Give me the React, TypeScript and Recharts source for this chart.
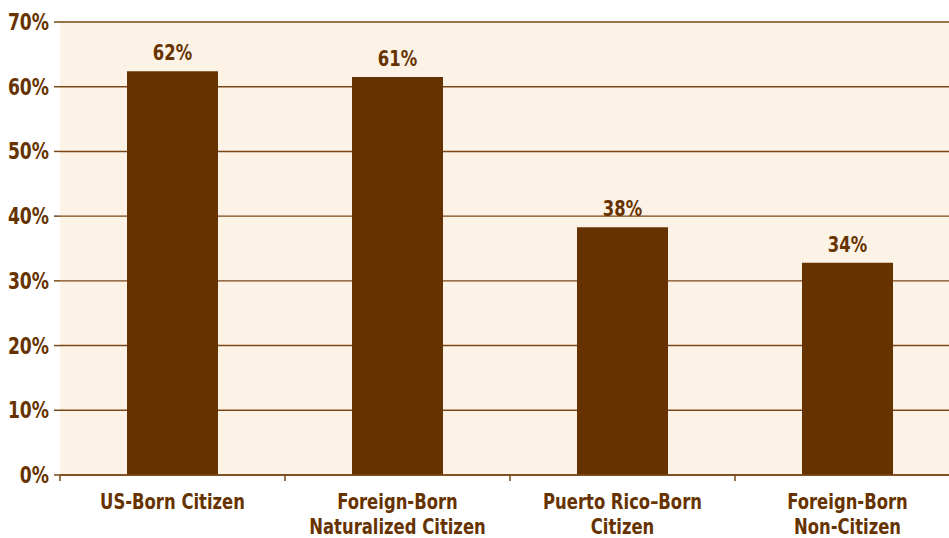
import { BarChart, Bar, XAxis, YAxis, CartesianGrid, LabelList } from "recharts";

const categories = [
  "US-Born Citizen",
  "Foreign-Born\nNaturalized Citizen",
  "Puerto Rico\u2013Born\nCitizen",
  "Foreign-Born\nNon-Citizen",
];
const shares = [62.4, 61.5, 38.3, 32.8];
const shareLabels = ["62%", "61%", "38%", "34%"];
const yTicks = [0, 10, 20, 30, 40, 50, 60, 70];

const BROWN = "#663300";
const LINE = "#7a4716";
const FONT = "'DejaVu Sans Condensed', 'DejaVu Sans', sans-serif";
const SQUEEZE = 0.83; // narrow the glyphs to look like a condensed face

const data = categories.map((name, i) => ({ name, share: shares[i], label: shareLabels[i] }));

function NarrowText({ x, y, anchor, size, children }: any) {
  return (
    <text
      transform={`translate(${x},${y}) scale(${SQUEEZE},1)`}
      textAnchor={anchor}
      fill={BROWN}
      fontFamily={FONT}
      fontWeight="bold"
      fontSize={size}
    >
      {children}
    </text>
  );
}

// category label plus a small tick at the left edge of each band
function CategoryTick(props: any) {
  const { x, y, payload, width, visibleTicksCount } = props;
  const band = width / visibleTicksCount;
  const lines = String(payload.value).split("\n");
  return (
    <g>
      <line x1={x - band / 2} x2={x - band / 2} y1={y - 8} y2={y - 2} stroke={LINE} strokeWidth={1.5} />
      <NarrowText x={x} y={y + 26} anchor="middle" size={22}>
        {lines.map((l, i) => (
          <tspan key={i} x={0} dy={i === 0 ? 0 : 25}>
            {l}
          </tspan>
        ))}
      </NarrowText>
    </g>
  );
}

function PercentTick(props: any) {
  const { x, y, payload } = props;
  return (
    <NarrowText x={x} y={y + 8} anchor="end" size={23}>
      {`${payload.value}%`}
    </NarrowText>
  );
}

function ValueLabel(props: any) {
  const { x, y, width, value } = props;
  return (
    <NarrowText x={x + width / 2} y={y - 11} anchor="middle" size={22}>
      {value}
    </NarrowText>
  );
}

export default function App() {
  return (
    <div style={{ position: "absolute", left: 0, top: 0, width: 949, height: 538, overflow: "hidden", background: "#fff" }}>
      <BarChart width={960} height={538} data={data} margin={{ top: 22, right: 0, bottom: 0, left: 0 }}>
        <CartesianGrid vertical={false} stroke={LINE} strokeWidth={1.4} fill="#fdf2e6" fillOpacity={1} />
        <YAxis
          domain={[0, 70]}
          ticks={yTicks}
          width={60}
          axisLine={false}
          tickLine={{ stroke: LINE, strokeWidth: 1.5 }}
          tickSize={6}
          tickMargin={5}
          tick={<PercentTick />}
        />
        <XAxis
          dataKey="name"
          height={63}
          axisLine={{ stroke: LINE, strokeWidth: 1.5 }}
          tickLine={false}
          interval={0}
          tick={<CategoryTick />}
        />
        <Bar dataKey="share" fill={BROWN} barSize={91} isAnimationActive={false}>
          <LabelList dataKey="label" content={<ValueLabel />} />
        </Bar>
      </BarChart>
    </div>
  );
}
